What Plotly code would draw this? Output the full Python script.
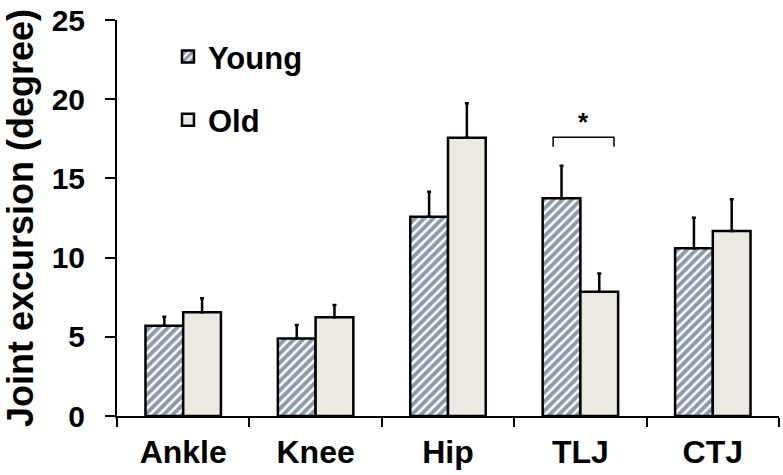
import plotly.graph_objects as go

categories = ["Ankle", "Knee", "Hip", "TLJ", "CTJ"]
young_mean = [5.7, 4.9, 12.58, 13.74, 10.59]
young_sd = [0.57, 0.84, 1.58, 2.06, 1.93]
old_mean = [6.55, 6.23, 17.57, 7.85, 11.68]
old_sd = [0.88, 0.77, 2.17, 1.15, 2.0]
y_ticks = [0, 5, 10, 15, 20, 25]

FONT = "Liberation Sans, Arial, sans-serif"

fig = go.Figure()
fig.add_trace(go.Bar(
    name="Young", x=categories, y=young_mean,
    marker=dict(color="white", line=dict(color="black", width=2.5),
                pattern=dict(shape="/", fgcolor="#1a3358", bgcolor="white",
                             size=6.5, solidity=0.6, fillmode="overlay")),
    error_y=dict(type="data", symmetric=False, array=young_sd,
                 arrayminus=[0] * len(young_sd), color="black",
                 thickness=2.5, width=2),
    legendgroup="a",
))
fig.add_trace(go.Bar(
    name="Old", x=categories, y=old_mean,
    marker=dict(color="#ebe9e1", line=dict(color="black", width=2.5)),
    error_y=dict(type="data", symmetric=False, array=old_sd,
                 arrayminus=[0] * len(old_sd), color="black",
                 thickness=2.5, width=2),
    legendgroup="b",
))

# significance bracket over TLJ
bx0, bx1, by_top, by_bot = 2.794, 3.254, 17.6, 17.0
fig.add_shape(type="path",
              path=f"M {bx0} {by_bot} L {bx0} {by_top} L {bx1} {by_top} L {bx1} {by_bot}",
              xref="x", yref="y", line=dict(color="black", width=1.5))
fig.add_annotation(x=(bx0 + bx1) / 2, y=by_top, text="*", showarrow=False,
                   yshift=15, font=dict(size=26, color="black", family=FONT, weight="bold"))

fig.update_layout(
    width=783, height=475,
    margin=dict(l=117, r=4, t=20, b=59, autoexpand=False),
    paper_bgcolor="white", plot_bgcolor="white",
    barmode="group", bargap=0.43, bargroupgap=0,
    font=dict(family=FONT, color="black"),
    showlegend=True,
    legend=dict(x=0.077, y=0.975, xanchor="left", yanchor="top",
                font=dict(size=31, family=FONT, color="black", weight="bold"),
                bgcolor="rgba(0,0,0,0)", tracegroupgap=20,
                itemwidth=30),
    xaxis=dict(showline=True, linecolor="black", linewidth=2,
               ticks="outside", tickson="boundaries", ticklen=9,
               tickwidth=2, tickcolor="black", automargin=False,
               ticklabelstandoff=7,
               tickfont=dict(size=32, family=FONT, color="black", weight="bold"),
               showgrid=False, zeroline=False),
    yaxis=dict(range=[0, 25], tickvals=y_ticks, automargin=False,
               showline=True, linecolor="black", linewidth=2,
               ticks="outside", ticklen=10, tickwidth=2, tickcolor="black",
               ticklabelstandoff=14, ticklabeloverflow="allow",
               tickfont=dict(size=30, family=FONT, color="black", weight="bold"),
               showgrid=False, zeroline=False,
               title=dict(text="Joint excursion (degree)",
                          font=dict(size=36, family=FONT, color="black", weight="bold"),
                          standoff=16)),
)

fig.write_html("out.html", config={"displayModeBar": False},
               post_script="document.body.style.margin='0';document.body.style.overflow='hidden';")
